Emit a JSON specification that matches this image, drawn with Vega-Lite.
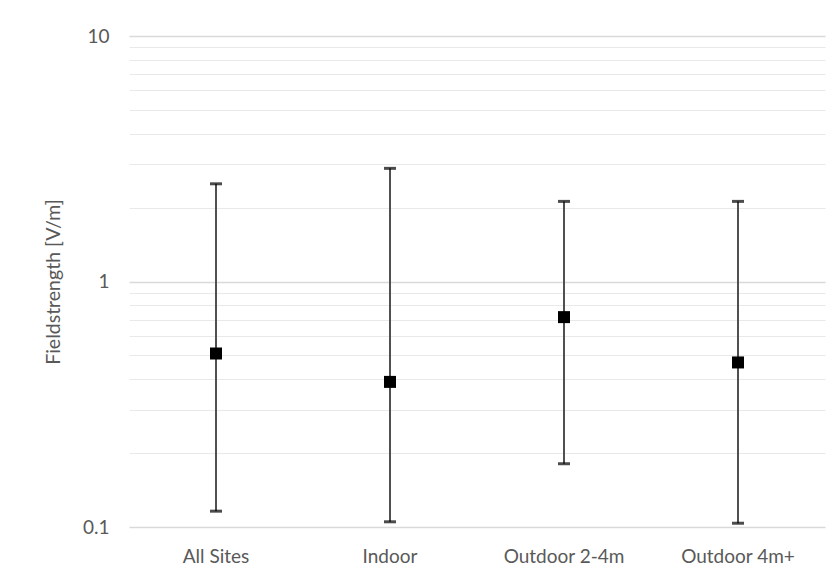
{
  "$schema": "https://vega.github.io/schema/vega-lite/v6.json",
  "width": 696,
  "height": 491,
  "autosize": {"type": "none"},
  "padding": {"left": 129, "top": 36, "right": 11, "bottom": 48},
  "background": "white",
  "config": {
    "view": {"stroke": null},
    "font": "Lato",
    "axis": {"labelColor": "#595959", "titleColor": "#595959", "labelFont": "Lato", "titleFont": "Lato"}
  },
  "data": {
    "values": [
      {"site": "All Sites", "mean": 0.509, "low": 0.116, "high": 2.5},
      {"site": "Indoor", "mean": 0.39, "low": 0.105, "high": 2.89},
      {"site": "Outdoor 2-4m", "mean": 0.716, "low": 0.181, "high": 2.12},
      {"site": "Outdoor 4m+", "mean": 0.468, "low": 0.1036, "high": 2.12}
    ]
  },
  "encoding": {
    "x": {
      "field": "site",
      "type": "nominal",
      "sort": null,
      "scale": {"paddingInner": 0, "paddingOuter": 0},
      "axis": {
        "title": null,
        "labelAngle": 0,
        "labelFontSize": 19,
        "labelPadding": 20,
        "domain": false,
        "ticks": false,
        "grid": false
      }
    }
  },
  "layer": [
    {
      "mark": {"type": "rule", "color": "#505050", "strokeWidth": 2},
      "encoding": {
        "y": {
          "field": "low",
          "type": "quantitative",
          "scale": {"type": "log", "domain": [0.1, 10], "nice": false},
          "axis": {
            "title": "Fieldstrength [V/m]",
            "titleFontSize": 19.5,
            "titleFontWeight": "normal",
            "titlePadding": 19,
            "labelFontSize": 19,
            "labelPadding": 20,
            "domain": false,
            "ticks": false,
            "values": [0.1, 0.2, 0.3, 0.4, 0.5, 0.6, 0.7, 0.8, 0.9, 1, 2, 3, 4, 5, 6, 7, 8, 9, 10],
            "labelExpr": "datum.value == 0.1 ? '0.1' : datum.value == 1 ? '1' : datum.value == 10 ? '10' : ''",
            "grid": true,
            "gridColor": {"condition": {"test": "datum.value == 0.1 || datum.value == 1 || datum.value == 10", "value": "#d9d9d9"}, "value": "#e9e9e9"},
            "gridWidth": {"condition": {"test": "datum.value == 0.1 || datum.value == 1 || datum.value == 10", "value": 1.5}, "value": 1}
          }
        },
        "y2": {"field": "high"}
      }
    },
    {
      "mark": {"type": "tick", "color": "#000000", "thickness": 3, "size": 12, "orient": "horizontal"},
      "encoding": {"y": {"field": "low", "type": "quantitative"}}
    },
    {
      "mark": {"type": "tick", "color": "#000000", "thickness": 3, "size": 12, "orient": "horizontal"},
      "encoding": {"y": {"field": "high", "type": "quantitative"}}
    },
    {
      "mark": {"type": "square", "color": "#000000", "filled": true, "opacity": 1, "size": 144},
      "encoding": {"y": {"field": "mean", "type": "quantitative"}}
    }
  ]
}
